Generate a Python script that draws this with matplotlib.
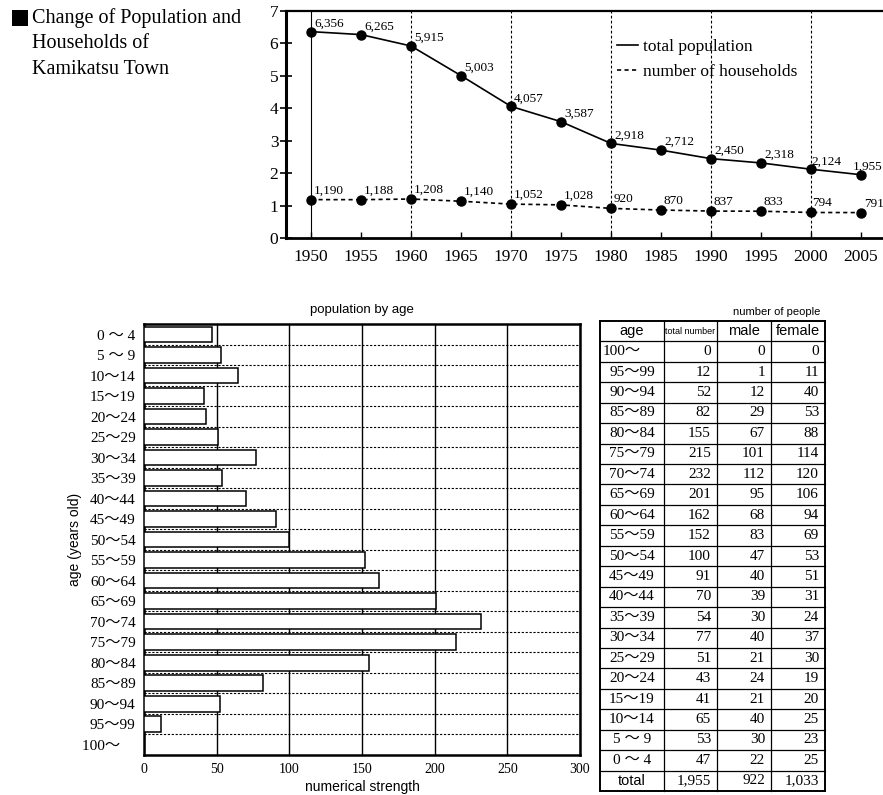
import matplotlib

matplotlib.use("Agg")
import matplotlib.pyplot as plt
from matplotlib.patches import Rectangle
import numpy as np

plt.rcParams["font.family"] = ["Liberation Serif", "Noto Sans CJK JP"]
SANS = ["Liberation Sans", "Noto Sans CJK JP"]

# population / households, in persons
YEARS = [1950, 1955, 1960, 1965, 1970, 1975, 1980, 1985, 1990, 1995, 2000, 2005]
POPULATION = [6356, 6265, 5915, 5003, 4057, 3587, 2918, 2712, 2450, 2318, 2124, 1955]
HOUSEHOLDS = [1190, 1188, 1208, 1140, 1052, 1028, 920, 870, 837, 833, 794, 791]

# age structure, youngest first
AGE_GROUPS = ["0 ～ 4", "5 ～ 9", "10～14", "15～19", "20～24", "25～29", "30～34",
              "35～39", "40～44", "45～49", "50～54", "55～59", "60～64", "65～69",
              "70～74", "75～79", "80～84", "85～89", "90～94", "95～99", "100～"]
TOTAL = [47, 53, 65, 41, 43, 51, 77, 54, 70, 91, 100, 152, 162, 201, 232, 215, 155, 82, 52, 12, 0]
MALE = [22, 30, 40, 21, 24, 21, 40, 30, 39, 40, 47, 83, 68, 95, 112, 101, 67, 29, 12, 1, 0]
FEMALE = [25, 23, 25, 20, 19, 30, 37, 24, 31, 51, 53, 69, 94, 106, 120, 114, 88, 53, 40, 11, 0]
HEADERS = ["age", "total number", "male", "female"]

W, H = 883, 795
fig = plt.figure(figsize=(W / 100, H / 100), dpi=100)


def box(x0, y0, x1, y1):
    # pixel box (top-left origin) -> figure fraction rect
    return [x0 / W, 1 - y1 / H, (x1 - x0) / W, (y1 - y0) / H]


# ---- title block
fig.patches.append(Rectangle((12 / W, 1 - 26 / H), 16 / W, 16 / H, transform=fig.transFigure,
                             facecolor="black", edgecolor="none"))
for k, line in enumerate(["Change of Population and", "Households of", "Kamikatsu Town"]):
    fig.text(32 / W, 1 - (18 + 25.5 * k) / H, line, fontsize=14.5, va="center", ha="left")

# ---- line chart
ax = fig.add_axes(box(286, 10.7, W, 238.3))
pop_k = np.array(POPULATION) / 1000
hh_k = np.array(HOUSEHOLDS) / 1000
ax.axvline(1950, color="black", lw=0.8, zorder=1)
for yr in YEARS[2:-1:2]:
    ax.axvline(yr, color="black", lw=0.8, ls=(0, (2.5, 2)), zorder=1)
ax.plot(YEARS, pop_k, color="black", lw=1.2, marker="o", ms=6.5, label="total population", zorder=3)
ax.plot(YEARS, hh_k, color="black", lw=1.2, ls=(0, (2.5, 2)), marker="o", ms=6.5,
        label="number of households", zorder=3)
for i, yr in enumerate(YEARS):
    dx = 3
    if yr == 2005:
        dx = -8
    elif yr == 2000:
        dx = 0
    ax.annotate(f"{POPULATION[i]:,}", (yr, pop_k[i]), xytext=(dx, 5), textcoords="offset pixels",
                fontsize=9.5, ha="left", va="baseline")
    ax.annotate(f"{HOUSEHOLDS[i]:,}", (yr, hh_k[i]), xytext=(3 if yr != 2000 else 1, 6),
                textcoords="offset pixels", fontsize=9.5, ha="left", va="baseline")
ax.set_xlim(1947.5, 2007.2)
ax.set_ylim(0, 7)
ax.set_xticks(YEARS)
ax.set_yticks(range(8))
ax.tick_params(axis="x", direction="in", length=4, width=1, labelsize=12.5, pad=8)
ax.tick_params(axis="y", direction="inout", length=9, width=1.2, labelsize=12.5, pad=1)
ax.spines["right"].set_visible(False)
ax.spines["left"].set_linewidth(2.2)
ax.spines["bottom"].set_linewidth(2)
ax.spines["top"].set_linewidth(1.6)
leg = ax.legend(loc="upper left", bbox_to_anchor=(0.554, 0.875), frameon=False, fontsize=12.5,
                handlelength=1.2, handletextpad=0.3, borderpad=0, borderaxespad=0, labelspacing=0.5)
for h in leg.legend_handles:
    h.set_marker("")

# ---- population by age bars
bx = fig.add_axes(box(144, 324.3, 580, 755))
ypos = np.arange(len(AGE_GROUPS))
bx.barh(ypos, TOTAL, height=0.76, color="white", edgecolor="black", lw=1.1, zorder=3)
bx.set_xlim(0, 300)
bx.set_ylim(len(AGE_GROUPS) - 0.5, -0.5)
bx.set_xticks(range(0, 301, 50))
bx.set_yticks(ypos, [g if g != "100～" else g + "\u3000" for g in AGE_GROUPS])
bx.set_yticks(ypos[:-1] + 0.5, minor=True)
bx.set_axisbelow(True)
bx.xaxis.grid(True, color="black", lw=1)
bx.yaxis.grid(True, which="minor", color="black", lw=0.8, ls=(0, (2, 1.5)))
bx.tick_params(axis="both", which="both", length=0)
bx.tick_params(axis="x", labelsize=10, pad=6)
bx.tick_params(axis="y", labelsize=11, pad=6)
for s in bx.spines.values():
    s.set_linewidth(1.8)
bx.set_title("population by age", family=SANS, fontsize=9.5, pad=8)
bx.set_xlabel("numerical strength", family=SANS, fontsize=10, labelpad=3)
fig.text(75 / W, 1 - 539.5 / H, "age (years old)", family=SANS, fontsize=10, rotation=90,
         ha="center", va="center")

# ---- table
tx = fig.add_axes(box(600, 321, 825, 791))
cols = [0, 64, 117, 171, 225]
nrows = len(AGE_GROUPS) + 2
tx.set_xlim(0, 225)
tx.set_ylim(nrows, 0)
tx.axis("off")
for r in range(nrows + 1):
    tx.plot([0, 225], [r, r], color="black", lw=1.4 if r in (0, nrows) else 0.9, clip_on=False)
for c in cols:
    tx.plot([c, c], [0, nrows], color="black", lw=1.4 if c in (0, 225) else 0.9, clip_on=False)
for j, head in enumerate(HEADERS):
    tx.text((cols[j] + cols[j + 1]) / 2, 0.5, head, family=SANS, fontsize=6.5 if j == 1 else 10.5,
            ha="center", va="center")
rows = list(zip(AGE_GROUPS, TOTAL, MALE, FEMALE))[::-1]
for r, (age, tot, m, f) in enumerate(rows, start=1):
    if age == "100～":
        tx.text(3, r + 0.5, age, fontsize=11, ha="left", va="center")
    else:
        tx.text(cols[0] + 32, r + 0.5, age, fontsize=11, ha="center", va="center")
    for j, v in enumerate([tot, m, f]):
        tx.text(cols[j + 2] - 6, r + 0.5, f"{v:,}", fontsize=11, ha="right", va="center")
tx.text(32, nrows - 0.5, "total", family=SANS, fontsize=10.5, ha="center", va="center")
for j, v in enumerate([sum(TOTAL), sum(MALE), sum(FEMALE)]):
    tx.text(cols[j + 2] - 6, nrows - 0.5, f"{v:,}", fontsize=11, ha="right", va="center")
fig.text(820 / W, 1 - 312 / H, "number of people", family=SANS, fontsize=8, ha="right", va="center")

fig.savefig("out.png", dpi=100)
